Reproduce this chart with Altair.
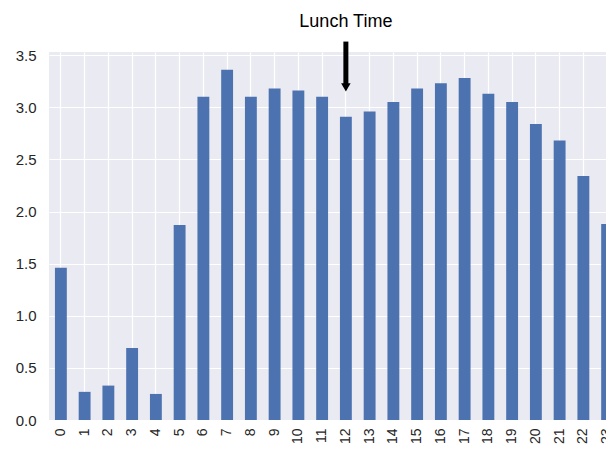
import altair as alt
import pandas as pd

hours = list(range(24))
values = [1.46, 0.27, 0.33, 0.69, 0.25, 1.87, 3.10, 3.36, 3.10, 3.18, 3.16, 3.10,
          2.91, 2.96, 3.05, 3.18, 3.23, 3.28, 3.13, 3.05, 2.84, 2.68, 2.34, 1.88]

ann_hour = [12]
ann_label = ["Lunch Time"]
ann_text_y = [3.82]
arrow_start = [3.63]
arrow_end = [3.22]
arrow_head = [3.19]

df = pd.DataFrame({"hour": hours, "value": values})
ann = pd.DataFrame({"hour": ann_hour, "label": ann_label, "ty": ann_text_y,
                    "y1": arrow_start, "y2": arrow_end, "yh": arrow_head})

font = "Liberation Sans"

x = alt.X("hour:O", sort=hours, title=None,
          scale=alt.Scale(range=[0, 570], paddingInner=0.5, paddingOuter=0.25),
          axis=alt.Axis(labelAngle=270, labelAlign="right", labelBaseline="middle",
                        labelPadding=8, ticks=False, domain=False, grid=True,
                        bandPosition=0.5, labelFontSize=14, labelFont=font,
                        labelColor="#262626", gridColor="white", gridWidth=1.2))

y = alt.Y("value:Q", title=None,
          scale=alt.Scale(domain=[0, 3.53], nice=False, zero=True),
          axis=alt.Axis(values=[0, 0.5, 1, 1.5, 2, 2.5, 3, 3.5], format=".1f",
                        ticks=False, domain=False, grid=True, labelPadding=13,
                        labelFontSize=15, labelFont=font, labelColor="#262626",
                        gridColor="white", gridWidth=1.2))

bars = alt.Chart(df).mark_bar(color="#4C72B0").encode(x=x, y=y)

text = alt.Chart(ann).mark_text(fontSize=18, font=font, color="black",
                                baseline="middle", align="center").encode(
    x=alt.X("hour:O", sort=hours), y=alt.Y("ty:Q"), text="label:N")

rule = alt.Chart(ann).mark_rule(color="black", strokeWidth=5).encode(
    x=alt.X("hour:O", sort=hours), y=alt.Y("y1:Q"), y2="y2:Q")

head = alt.Chart(ann).mark_point(shape="triangle-down", filled=True, color="black",
                                 opacity=1, size=90).encode(
    x=alt.X("hour:O", sort=hours), y=alt.Y("yh:Q"))

chart = alt.layer(bars, rule, head, text).properties(
    width=557, height=368,
    autosize=alt.AutoSizeParams(type="none"),
    padding={"left": 41, "top": 44, "right": 0, "bottom": 25},
).configure_view(fill="#EAEAF2", stroke=None)

chart.save("out.html", embed_options={"renderer": "svg", "actions": False})
